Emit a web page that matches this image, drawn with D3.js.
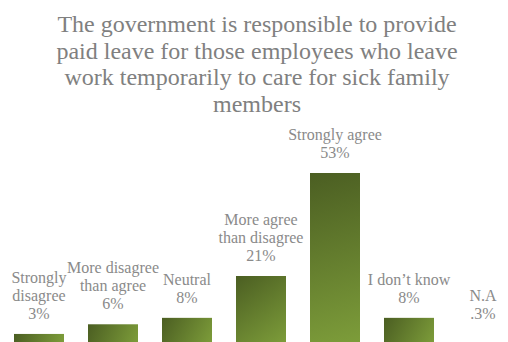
<!DOCTYPE html>
<html>
<head>
<meta charset="utf-8">
<script src="https://cdn.jsdelivr.net/npm/d3@7/dist/d3.min.js"></script>
<style>
  html, body { margin: 0; padding: 0; background: #fff; }
  svg { display: block; }
</style>
</head>
<body>
<svg id="chart" width="508" height="342"></svg>
<script>
// Survey answers and their shares (%)
const categories = [
  ["Strongly", "disagree"],
  ["More disagree", "than agree"],
  ["Neutral"],
  ["More agree", "than disagree"],
  ["Strongly agree"],
  ["I don\u2019t know"],
  ["N.A"]
];
const values = [3, 6, 8, 21, 53, 8, 0.3];
const valueLabels = ["3%", "6%", "8%", "21%", "53%", "8%", ".3%"];
const titleLines = [
  "The government is responsible to provide",
  "paid leave for those employees who leave",
  "work temporarily to care for sick family",
  "members"
];

const svg = d3.select("#chart");
const W = 508;

// Title
svg.append("text")
  .attr("x", 257)
  .attr("y", 32)
  .attr("text-anchor", "middle")
  .attr("font-family", "'Liberation Serif', 'Times New Roman', serif")
  .attr("font-size", 24)
  .attr("fill", "#808080")
  .selectAll("tspan")
  .data(titleLines)
  .join("tspan")
  .attr("x", 257)
  .attr("dy", (d, i) => i === 0 ? 0 : 26.7)
  .text(d => d);

const idx = d3.range(values.length);
const x = d3.scaleBand()
  .domain(idx)
  .range([2, 520])
  .paddingInner(24 / 74)
  .paddingOuter(12 / 74);

const y = d3.scaleLinear()
  .domain([0, 53])
  .range([343.6, 173]);

const defs = svg.append("defs");
idx.forEach(i => {
  const x0 = x(i), y0 = y(values[i]);
  const g = defs.append("linearGradient")
    .attr("id", "barGrad" + i)
    .attr("gradientUnits", "userSpaceOnUse")
    .attr("x1", x0).attr("y1", y0)
    .attr("x2", x0 + x.bandwidth()).attr("y2", y(0));
  g.append("stop").attr("offset", 0).attr("stop-color", "#4b5e22");
  g.append("stop").attr("offset", 1).attr("stop-color", "#7d9d3a");
});

svg.append("g")
  .selectAll("rect")
  .data(idx)
  .join("rect")
  .attr("x", i => x(i))
  .attr("y", i => y(values[i]))
  .attr("width", x.bandwidth())
  .attr("height", i => y(0) - y(values[i]))
  .attr("fill", i => `url(#barGrad${i})`);

// Data labels: category name lines then the value, stacked above each bar
const lineH = 18;
const labels = svg.append("g")
  .attr("font-family", "'Liberation Serif', 'Times New Roman', serif")
  .attr("font-size", 16)
  .attr("fill", "#8a8a8a")
  .attr("text-anchor", "middle");

idx.forEach(i => {
  const lines = categories[i].concat([valueLabels[i]]);
  const cx = x(i) + x.bandwidth() / 2;
  const baseY = Math.min(y(values[i]), 334) - 15;
  const t = labels.append("text");
  lines.forEach((s, k) => {
    t.append("tspan")
      .attr("x", cx)
      .attr("y", baseY - (lines.length - 1 - k) * lineH)
      .text(s);
  });
});
</script>
</body>
</html>
